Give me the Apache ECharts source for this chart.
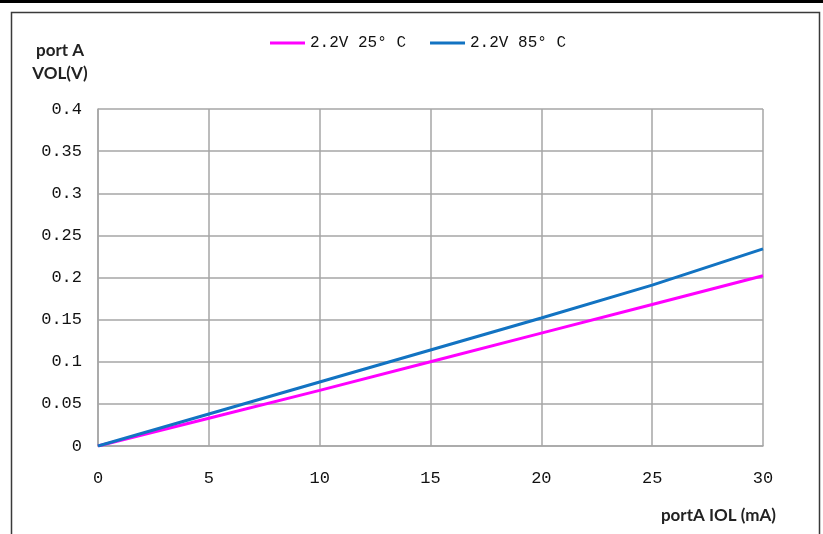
<!DOCTYPE html>
<html>
<head>
<meta charset="utf-8">
<script src="https://cdn.jsdelivr.net/npm/echarts@6/dist/echarts.min.js"></script>
<style>
html,body{margin:0;padding:0;background:#fff;}
#chart{width:823px;height:534px;}
</style>
</head>
<body>
<div id="chart"></div>
<script>
var xValues = [0, 5, 10, 15, 20, 25, 30];
var seriesNames = ['2.2V 25° C', '2.2V 85° C'];
var vol25 = [0, 0.033, 0.066, 0.1, 0.134, 0.168, 0.202];
var vol85 = [0, 0.038, 0.076, 0.114, 0.152, 0.191, 0.234];
var yTicks = [0, 0.05, 0.1, 0.15, 0.2, 0.25, 0.3, 0.35, 0.4];

var chart = echarts.init(document.getElementById('chart'));
var mono = '"Liberation Mono", "DejaVu Sans Mono", monospace';
var gridColor = '#a6a6a6';
function pairs(vals){ return xValues.map(function(x,i){ return [x, vals[i]]; }); }

chart.setOption({
  backgroundColor: '#ffffff',
  animation: false,
  graphic: [
    { type: 'rect', shape: { x: 0, y: 0, width: 823, height: 3 }, style: { fill: '#000' } },
    { type: 'polyline', shape: { points: [[11.5, 534], [11.5, 12.5], [819.5, 12.5], [819.5, 534]] },
      style: { stroke: '#3a3a3a', lineWidth: 1.5, fill: null } }
  ],
  legend: {
    left: 265, top: 30,
    itemWidth: 35, itemHeight: 14, itemGap: 24,
    textStyle: { fontFamily: mono, fontSize: 16, color: '#111' },
    data: [
      { name: seriesNames[0], icon: 'path://M0,0 L35,0 L35,3 L0,3 Z' },
      { name: seriesNames[1], icon: 'path://M0,0 L35,0 L35,3 L0,3 Z' }
    ]
  },
  grid: { left: 98, right: 60, top: 109, bottom: 88, containLabel: false },
  xAxis: {
    type: 'value', min: 0, max: 30, interval: 5,
    name: 'portA IOL (mA)', nameLocation: 'end', nameGap: 13,
    nameTextStyle: { fontFamily: 'Lato, "Open Sans", sans-serif', fontWeight: 'bold', fontSize: 17, color: '#222',
      align: 'right', verticalAlign: 'top', padding: [61, 0, 0, 0] },
    axisLine: { show: true, lineStyle: { color: gridColor, width: 1.5 } },
    axisTick: { show: false },
    axisLabel: { fontFamily: mono, fontSize: 17, color: '#111', margin: 24 },
    splitLine: { show: true, lineStyle: { color: gridColor, width: 1.5 } }
  },
  yAxis: {
    type: 'value', min: 0, max: 0.4, interval: 0.05,
    name: 'port A\nVOL(V)', nameLocation: 'end', nameGap: 24,
    nameTextStyle: { fontFamily: 'Lato, "Open Sans", sans-serif', fontWeight: 'bold', fontSize: 17, color: '#222',
      align: 'center', lineHeight: 23, padding: [0, 76, 0, 0] },
    axisLine: { show: true, lineStyle: { color: gridColor, width: 1.5 } },
    axisTick: { show: false },
    axisLabel: { fontFamily: mono, fontSize: 17, color: '#111', margin: 16,
      formatter: function(v){ return String(parseFloat(v.toFixed(2))); } },
    splitLine: { show: true, lineStyle: { color: gridColor, width: 1.5 } }
  },
  series: [
    { name: seriesNames[0], type: 'line', data: pairs(vol25), showSymbol: false, symbol: 'none',
      lineStyle: { color: '#ff00ff', width: 3 }, itemStyle: { color: '#ff00ff' } },
    { name: seriesNames[1], type: 'line', data: pairs(vol85), showSymbol: false, symbol: 'none',
      lineStyle: { color: '#1273c2', width: 3 }, itemStyle: { color: '#1273c2' } }
  ]
});
</script>
</body>
</html>
